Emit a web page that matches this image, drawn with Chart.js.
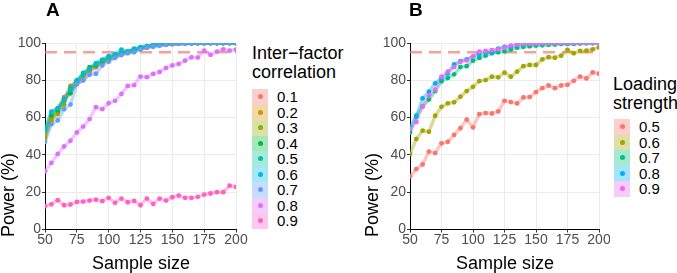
<!DOCTYPE html>
<html>
<head>
<meta charset="utf-8">
<script src="https://cdn.jsdelivr.net/npm/chart.js@4"></script>
<style>
  body { margin: 0; background: #fff; font-family: "Liberation Sans", Arial, sans-serif; }
  #wrap { position: relative; width: 677px; height: 273px; overflow: hidden; background: #fff; }
  canvas { position: absolute; top: 0; }
  .txt { position: absolute; white-space: nowrap; color: #000; }
  .panel { font-size: 19px; font-weight: bold; line-height: 19px; }
  .xt { font-size: 18px; line-height: 18px; width: 200px; text-align: center; }
  .yt { font-size: 18px; line-height: 20px; width: 120px; height: 20px; text-align: center; transform: rotate(-90deg); }
  .lt { font-size: 18px; line-height: 19px; }
  .row { position: absolute; height: 15.5px; }
  .key { position: absolute; left: 0; top: 0; width: 16px; height: 15.5px; }
  .dot { position: absolute; left: 5.5px; top: 5.2px; width: 5px; height: 5px; border-radius: 50%; }
  .kl { position: absolute; left: 25px; top: 0; font-size: 15px; line-height: 15.5px; }
</style>
</head>
<body>
<div id="wrap">
  <canvas id="chartA" width="250" height="273" style="left:0"></canvas>
  <canvas id="chartB" width="250" height="273" style="left:360px"></canvas>

  <div class="txt panel" style="left:46px;top:0px">A</div>
  <div class="txt panel" style="left:409px;top:0px">B</div>

  <div class="txt xt" style="left:41px;top:254px">Sample size</div>
  <div class="txt xt" style="left:405px;top:254px">Sample size</div>
  <div class="txt yt" style="left:-52px;top:185px">Power (%)</div>
  <div class="txt yt" style="left:312px;top:185px">Power (%)</div>

  <div class="txt lt" style="left:252px;top:44px">Inter−factor<br>correlation</div>
  <div class="txt lt" style="left:613px;top:75px">Loading<br>strength</div>
  <div id="legA" class="txt" style="left:252px;top:89px"></div>
  <div id="legB" class="txt" style="left:614px;top:119px"></div>
</div>

<script>
// Sample sizes on the x axis
const sampleSize = [50,55,60,65,70,75,80,85,90,95,100,105,110,115,120,125,130,135,140,145,150,155,160,165,170,175,180,185,190,195,200];
const xTicks = [50,75,100,125,150,175,200];
const yTicks = [0,20,40,60,80,100];
const targetPower = 95;

// Panel A: inter-factor correlation
const corrLabels = ['0.1','0.2','0.3','0.4','0.5','0.6','0.7','0.8','0.9'];
const corr01 = [50,60,64,71,74,78,80,84,87,89,91,92.5,94,95,96,97,97.5,98.5,99,99.3,99.5,99.7,99.8,99.8,99.9,99.9,100,100,100,100,100];
const corr02 = [51,59,63,69,77,79,83,85,88,90,91,93,94.5,95.5,96,97,98,98.5,99,99.2,99.6,99.7,99.8,99.9,99.9,100,100,100,100,100,100];
const corr03 = [49,58,62,67,75,78,82,86,88,89.5,91,93,94,95,96.5,97,98,98.6,99,99.4,99.6,99.7,99.8,99.9,100,100,100,100,100,100,100];
const corr04 = [53,61,64,70,73,79,83,87,88,90,92,93,94.5,95,96,97.5,98,98.8,99.2,99.5,99.7,99.8,99.8,99.9,100,100,100,100,100,100,100];
const corr05 = [54,63,65,70,76,80,84,86,89,91,92.5,94,95,95.5,97,97.5,98.3,99,99.3,99.5,99.7,99.8,99.9,99.9,100,100,100,100,100,100,100];
const corr06 = [53,63,65,69,75,80,83,86,89,91,93,94,96.5,95.5,96.5,97.8,98.2,98.8,99.3,99.6,99.7,99.8,99.9,99.9,100,100,100,100,100,100,100];
const corr07 = [47,56.5,58.5,64.5,67,78,80,83,83.5,88,90,92,93.5,94.5,95,96.5,97.5,98,98.5,99,99.3,99.5,99.6,99.7,99.8,99.8,99.9,99.9,99.9,100,100];
const corr08 = [31.2,35.7,40.5,44.5,47.6,52,55.2,59.2,65.6,64.5,67.7,69,72.7,77,77.4,82,81.7,83.4,84.5,86.6,88,88.8,90.5,92.3,92.2,95.9,93.6,95.4,96.6,95.9,96.5];
const corr09 = [12.5,13.5,15.7,13,13.4,14.8,15,15.5,16,15.2,17,14.3,16.6,14.6,15.3,13,16.6,13.7,16.6,15.5,17.3,18.2,17,17,17.5,18.7,19.3,20,20,23.5,22.8];
const corrColors = ['#F8766D','#D39200','#93AA00','#00BA38','#00C19F','#00B9E3','#619CFF','#DB72FB','#FF61C3'];

// Panel B: loading strength
const loadLabels = ['0.5','0.6','0.7','0.8','0.9'];
const load05 = [28.5,32.4,34.9,41.8,41,46.2,47,50.7,54.3,58.9,54.8,61.8,62.4,62.2,63.3,69,68.3,67.6,70.8,71,73.7,75.8,77.2,75.8,77.2,77.6,79.7,82,81,84.2,83.5];
const load06 = [40.5,48.5,53,52.4,61,65.8,67.6,68.2,71.2,74.2,76.5,79.6,80.1,81.9,81.6,84.1,81.9,84.6,87.6,88.2,88.2,91.2,92.4,92.1,93.2,96.3,94.5,95.7,95.9,96.6,97.7];
const load07 = [52,61,66,69.7,74.2,79.5,81.2,83.2,87.1,87.6,90.5,92,93.2,94.5,95,95.5,96.5,97.5,98,98.2,98.6,98.8,99,99.2,99.4,99.5,99.5,99.7,99.8,99.9,100];
const load08 = [55,60.5,70.3,73.9,78.4,81,83.7,88.5,90.3,91.2,92.7,94,95,95,97,97.9,97.9,99,99.2,99.5,99.6,99.7,99.8,99.8,99.9,99.9,100,100,100,100,100];
const load09 = [54,57.7,66,71.9,75,81.9,84.6,87.1,89.9,90.7,92.7,95.3,95.7,96.2,96.6,97.5,98.6,99.2,99.5,99.6,99.7,99.8,99.8,99.9,99.9,100,100,100,100,100,100];
const loadColors = ['#F8766D','#A3A500','#00BF7D','#00B0F6','#E76BF3'];

const font = '"Liberation Sans", Arial, sans-serif';

function rgba(hex, a) {
  const n = parseInt(hex.slice(1), 16);
  return `rgba(${n >> 16},${(n >> 8) & 255},${n & 255},${a})`;
}

function makePanel(id, seriesList, colors, yAxisWidth, padRight) {
  const datasets = [];
  // reference line at 95 %
  datasets.push({
    data: [{ x: 50, y: targetPower }, { x: 200, y: targetPower }],
    borderColor: rgba('#F8766D', 0.7), borderWidth: 2.5, borderDash: [12, 7],
    pointRadius: 0, order: 100
  });
  seriesList.forEach((vals, i) => {
    const pts = vals.map((v, j) => ({ x: sampleSize[j], y: v }));
    // lines under, points on top (like ggplot layers)
    datasets.push({ data: pts, borderColor: rgba(colors[i], 0.4), borderWidth: 3.5, pointRadius: 0, order: 50 - i });
    datasets.push({ data: pts, showLine: false, pointRadius: 2.4, pointBackgroundColor: colors[i], pointBorderWidth: 0, order: -i });
  });
  new Chart(document.getElementById(id), {
    type: 'line',
    data: { datasets },
    options: {
      responsive: false, animation: false, devicePixelRatio: 1,
      layout: { padding: { top: 43, right: padRight, left: 0, bottom: 0 } },
      plugins: { legend: { display: false }, tooltip: { enabled: false } },
      scales: {
        x: {
          type: 'linear', min: 50, max: 200,
          afterBuildTicks: s => { s.ticks = xTicks.map(v => ({ value: v })); },
          afterFit: s => { s.height = 43.5; },
          grid: { color: '#EBEBEB', tickColor: '#333', tickLength: 3 },
          border: { color: '#000', width: 1 },
          ticks: { color: '#4D4D4D', font: { family: font, size: 14 }, padding: -1, maxRotation: 0 }
        },
        y: {
          min: 0, max: 100,
          afterBuildTicks: s => { s.ticks = yTicks.map(v => ({ value: v })); },
          afterFit: s => { s.width = yAxisWidth; },
          grid: { color: '#EBEBEB', tickColor: '#333', tickLength: 3 },
          border: { color: '#000', width: 1 },
          ticks: { color: '#4D4D4D', font: { family: font, size: 14 }, padding: 1 }
        }
      }
    }
  });
}

makePanel('chartA', [corr01, corr02, corr03, corr04, corr05, corr06, corr07, corr08, corr09], corrColors, 45, 14);
makePanel('chartB', [load05, load06, load07, load08, load09], loadColors, 50, 11);

// Legends
function buildLegend(id, labels, colors) {
  const el = document.getElementById(id);
  labels.forEach((lab, i) => {
    el.innerHTML += `<div class="row" style="top:${i * 15.5}px">
      <div class="key" style="background:${rgba(colors[i], 0.35)}"><div class="dot" style="background:${colors[i]}"></div></div>
      <div class="kl">${lab}</div></div>`;
  });
}
buildLegend('legA', corrLabels, corrColors);
buildLegend('legB', loadLabels, loadColors);
</script>
</body>
</html>
